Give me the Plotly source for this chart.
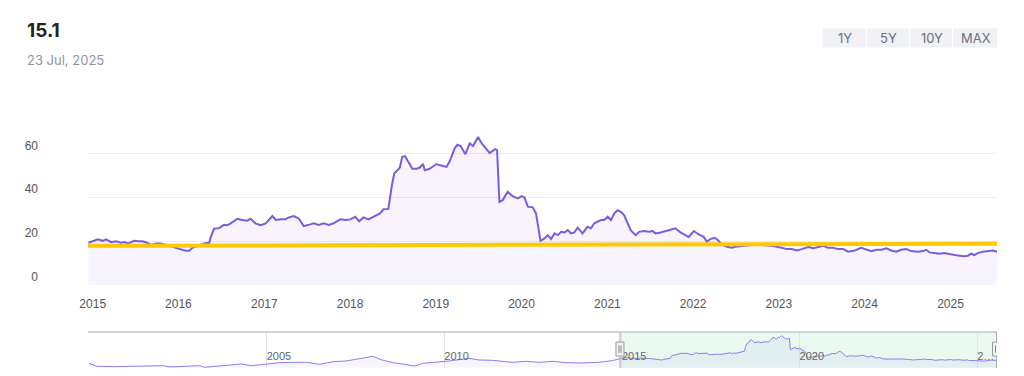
import plotly.graph_objects as go

# ---------------- data ----------------
title_value = "15.1"
title_date = "23 Jul, 2025"
range_buttons = ["1Y", "5Y", "10Y", "MAX"]

# long history (navigator only), 2000-2014
hist_dates = ["2000-01-01", "2000-03-21", "2000-09-06", "2001-02-24", "2001-08-15",
              "2002-02-03", "2002-04-13", "2002-09-27", "2003-02-13", "2003-04-05",
              "2003-09-06", "2004-01-19", "2004-04-16", "2004-07-27", "2004-11-06",
              "2004-12-28", "2005-05-16", "2005-09-27", "2006-02-14", "2006-06-28",
              "2006-11-13", "2007-03-29", "2007-08-11", "2007-12-28", "2008-03-22",
              "2008-07-20", "2008-10-30", "2009-02-28", "2009-05-23", "2009-10-09",
              "2010-02-21", "2010-09-13", "2010-12-24", "2011-05-12", "2011-08-22",
              "2011-12-02", "2012-04-16", "2012-09-02", "2013-01-15", "2013-06-03",
              "2013-10-16", "2014-05-08", "2014-09-24"]
hist_pe = [8.7, 2.3, 1.6, 2.3, 3.0,
           3.7, 0.9, 1.6, 3.7, 0.2,
           3.7, 6.6, 7.3, 3.7, 5.9,
           8.0, 10.1, 10.8, 10.8, 6.6,
           12.2, 13.7, 17.9, 23.6, 16.5,
           10.1, 7.3, 3.0, 8.7, 10.8,
           13.7, 19.4, 15.8, 15.1, 13.7,
           10.8, 13.0, 10.8, 13.0, 10.1,
           9.4, 10.8, 14.4]

# main series (visible window)
pe_dates = ["2014-12-14", "2015-01-23", "2015-02-13", "2015-02-27", "2015-03-20", "2015-04-10",
            "2015-05-01", "2015-05-16", "2015-06-02", "2015-06-27", "2015-07-14", "2015-08-01",
            "2015-08-20", "2015-09-07", "2015-09-27", "2015-10-18", "2015-11-08", "2015-12-01",
            "2015-12-22", "2016-01-11", "2016-02-01", "2016-02-16", "2016-03-01", "2016-03-25",
            "2016-04-20", "2016-05-11", "2016-05-18", "2016-06-01", "2016-06-22", "2016-07-13",
            "2016-07-27", "2016-08-11", "2016-09-08", "2016-09-29", "2016-10-20", "2016-11-03",
            "2016-11-24", "2016-12-16", "2017-01-07", "2017-02-04", "2017-02-19", "2017-03-11",
            "2017-04-01", "2017-04-15", "2017-05-07", "2017-05-28", "2017-06-18", "2017-07-09",
            "2017-07-30", "2017-08-20", "2017-09-11", "2017-10-02", "2017-10-23", "2017-11-20",
            "2017-12-12", "2018-01-02", "2018-01-23", "2018-02-09", "2018-02-27", "2018-03-20",
            "2018-04-10", "2018-05-09", "2018-05-23", "2018-06-13", "2018-06-27", "2018-07-08",
            "2018-07-25", "2018-08-01", "2018-08-11", "2018-08-23", "2018-09-06", "2018-09-23",
            "2018-10-11", "2018-10-25", "2018-11-08", "2018-11-15", "2018-12-06", "2018-12-20",
            "2019-01-04", "2019-01-19", "2019-02-02", "2019-02-16", "2019-03-02", "2019-03-23",
            "2019-04-03", "2019-04-17", "2019-05-07", "2019-05-26", "2019-06-09", "2019-06-16",
            "2019-06-30", "2019-07-14", "2019-07-28", "2019-08-18", "2019-09-01", "2019-09-11",
            "2019-09-19", "2019-09-29", "2019-10-13", "2019-11-03", "2019-11-24", "2019-12-16",
            "2020-01-02", "2020-01-14", "2020-01-28", "2020-02-18", "2020-03-03", "2020-03-22",
            "2020-04-08", "2020-04-22", "2020-05-06", "2020-05-21", "2020-06-04", "2020-06-18",
            "2020-07-02", "2020-07-16", "2020-07-30", "2020-08-13", "2020-08-27", "2020-09-17",
            "2020-10-08", "2020-10-23", "2020-11-06", "2020-11-20", "2020-12-04", "2020-12-18",
            "2021-01-02", "2021-01-16", "2021-01-30", "2021-02-13", "2021-02-27", "2021-03-13",
            "2021-03-27", "2021-04-10", "2021-05-01", "2021-05-16", "2021-06-06", "2021-06-28",
            "2021-07-11", "2021-07-25", "2021-08-15", "2021-09-06", "2021-09-27", "2021-10-18",
            "2021-11-08", "2021-11-22", "2021-12-13", "2022-01-04", "2022-01-25", "2022-02-15",
            "2022-03-01", "2022-03-15", "2022-04-03", "2022-04-17", "2022-05-04", "2022-05-25",
            "2022-06-15", "2022-06-29", "2022-07-27", "2022-09-08", "2022-10-20", "2022-12-02",
            "2023-01-14", "2023-02-04", "2023-02-25", "2023-03-18", "2023-04-08", "2023-05-07",
            "2023-05-28", "2023-06-25", "2023-07-09", "2023-07-30", "2023-08-20", "2023-09-11",
            "2023-10-02", "2023-10-23", "2023-11-20", "2023-12-18", "2024-01-09", "2024-01-30",
            "2024-02-21", "2024-03-13", "2024-04-03", "2024-04-24", "2024-05-15", "2024-06-05",
            "2024-06-26", "2024-07-18", "2024-08-15", "2024-09-06", "2024-09-20", "2024-10-04",
            "2024-10-25", "2024-11-15", "2024-12-06", "2024-12-28", "2025-01-19", "2025-02-09",
            "2025-03-02", "2025-03-16", "2025-03-30", "2025-04-13", "2025-04-27", "2025-05-18",
            "2025-06-09", "2025-06-30", "2025-07-23"]
pe_values = [19.3, 20.9, 20.2, 20.9, 19.6, 20.0,
             19.3, 19.6, 19.0, 20.2, 20.0, 20.0,
             19.3, 18.3, 19.0, 19.0, 18.4, 17.5,
             17.0, 16.3, 15.7, 15.7, 17.0, 18.0,
             19.0, 19.3, 22.0, 25.7, 26.0, 27.5,
             27.3, 28.2, 30.3, 29.7, 29.4, 30.3,
             28.2, 27.3, 28.2, 31.5, 29.7, 30.0,
             30.0, 30.9, 31.5, 30.3, 26.9, 27.5,
             28.2, 27.5, 28.2, 27.5, 28.2, 30.0,
             29.7, 30.0, 31.2, 29.1, 30.9, 30.0,
             31.2, 32.7, 34.6, 34.8, 44.9, 51.0,
             52.8, 53.7, 58.6, 58.9, 56.3, 53.1,
             53.1, 53.7, 55.3, 52.5, 53.1, 54.0,
             55.3, 54.7, 54.3, 54.0, 56.8, 62.6,
             64.1, 63.5, 59.8, 64.7, 63.5, 64.7,
             67.7, 65.0, 63.2, 60.4, 61.3, 62.2,
             61.6, 38.0, 38.8, 42.6, 40.6, 39.6,
             40.6, 40.0, 35.8, 35.5, 32.7, 20.2,
             21.3, 22.8, 21.0, 23.6, 22.8, 24.3,
             24.0, 25.1, 23.6, 24.0, 26.2, 23.6,
             26.6, 25.9, 28.2, 28.9, 29.7, 29.7,
             31.2, 29.7, 32.7, 34.2, 33.5, 32.0,
             28.2, 25.1, 22.8, 24.3, 24.7, 24.3,
             24.7, 23.6, 24.0, 24.7, 25.1, 25.9,
             24.0, 23.1, 22.0, 24.7, 23.1, 22.0,
             19.8, 21.0, 21.6, 20.5, 18.3, 17.5,
             17.0, 17.5, 17.9, 18.3, 18.3, 17.9,
             17.0, 16.4, 16.4, 15.8, 16.4, 17.4,
             16.8, 17.4, 17.9, 17.0, 17.0, 16.4,
             16.4, 15.2, 15.8, 17.0, 16.4, 15.5,
             16.1, 16.1, 16.8, 15.8, 15.2, 16.1,
             16.4, 15.5, 15.2, 15.5, 16.1, 14.9,
             14.6, 14.3, 14.6, 14.0, 13.7, 13.4,
             13.1, 13.4, 14.3, 13.7, 14.6, 15.2,
             15.5, 15.8, 15.1]

# reference (average) line
avg_dates = ["2014-12-12", "2025-07-23"]
avg_values = [17.9, 18.9]

# axes
main_range = ["2014-12-12", "2025-07-18"]
nav_range = ["1999-12-22", "2025-07-23"]
y_ticks = [0, 20, 40, 60, 80]
y_tick_text = ["0", "20", "40", "60", ""]
x_ticks = [f"{y}-01-01" for y in range(2015, 2026)]
x_tick_text = [str(y) for y in range(2015, 2026)]
nav_ticks = ["2005-01-01", "2010-01-01", "2015-01-01", "2020-01-01", "2025-01-01"]
nav_tick_text = ["2005", "2010", "2015", "2020", "2…"]

# ---------------- figure ----------------
OFF = 8                     # page body margin of the html
W, H = 1016, 368
PL, PR = 88 - OFF, 997 - OFF  # plot left / right in figure px
PW = PR - PL
LINE = "#7b5be2"
AX_FONT = dict(family="Liberation Sans, Arial, sans-serif", size=12, color="#555555")


def px_x(page_x):
    return (page_x - OFF - PL) / PW


def px_y(page_y):
    return 1 - (page_y - OFF) / H


fig = go.Figure()

fig.add_trace(go.Scatter(
    x=pe_dates, y=pe_values, mode="lines",
    line=dict(color=LINE, width=2),
    fill="tozeroy", fillcolor="rgba(140,100,240,0.07)",
    xaxis="x", yaxis="y", hoverinfo="skip"))

fig.add_trace(go.Scatter(
    x=avg_dates, y=avg_values, mode="lines",
    line=dict(color="#FFC800", width=4),
    xaxis="x", yaxis="y", hoverinfo="skip"))

fig.add_trace(go.Scatter(
    x=hist_dates + pe_dates, y=hist_pe + pe_values, mode="lines",
    line=dict(color="#8f7cf0", width=1),
    fill="tozeroy", fillcolor="rgba(140,120,240,0.07)",
    xaxis="x2", yaxis="y2", hoverinfo="skip"))

fig.update_layout(
    width=W, height=H,
    margin=dict(l=PL, r=W - PR, t=0, b=0),
    paper_bgcolor="white", plot_bgcolor="rgba(0,0,0,0)",
    showlegend=False,
    xaxis=dict(domain=[0, 1], range=main_range, type="date",
               tickvals=x_ticks, ticktext=x_tick_text,
               showgrid=False, zeroline=False, showline=False, ticks="",
               ticklabelstandoff=10, tickfont=AX_FONT, anchor="y"),
    yaxis=dict(domain=[px_y(285), px_y(110)], range=[0, 80],
               tickvals=y_ticks, ticktext=y_tick_text,
               showgrid=True, gridcolor="#ececec", gridwidth=1,
               zeroline=False, showline=False, ticks="",
               ticklabelposition="outside top", ticklabelstandoff=49,
               tickfont=AX_FONT, anchor="x"),
    xaxis2=dict(domain=[0, 1], range=nav_range, type="date",
                tickvals=nav_ticks, ticktext=nav_tick_text,
                showgrid=True, gridcolor="#e3e3e3", gridwidth=1,
                zeroline=False, showline=False, ticks="",
                ticklabelposition="inside right",
                tickfont=dict(family="Liberation Sans, Arial, sans-serif", size=11, color="#666666"),
                anchor="y2"),
    yaxis2=dict(domain=[px_y(368), px_y(332)], range=[-1.3, 75.6],
                showgrid=False, zeroline=False, showline=False,
                showticklabels=False, ticks="", anchor="x2"),
)

shapes = []
# navigator selection
shapes.append(dict(type="rect", xref="x2", yref="y2 domain", x0=main_range[0], x1=main_range[1],
                   y0=0, y1=1, fillcolor="rgba(90,210,150,0.14)", line=dict(width=0), layer="below"))
# navigator top outline
shapes.append(dict(type="line", xref="x2 domain", yref="y2 domain", x0=0, x1=1, y0=1, y1=1,
                   line=dict(color="#c4c4c4", width=1.5)))
# selection edges and handles
for d in main_range:
    shapes.append(dict(type="line", xref="x2", yref="y2 domain", x0=d, x1=d, y0=0, y1=1,
                       line=dict(color="#b0b0b0", width=1)))
    shapes.append(dict(type="rect", xref="x2", yref="y2 domain", xsizemode="pixel", xanchor=d,
                       x0=-4, x1=4, y0=0.33, y1=0.72, fillcolor="#f2f2f2",
                       line=dict(color="#999999", width=1)))
    for off in (-1, 1):
        shapes.append(dict(type="line", xref="x2", yref="y2 domain", xsizemode="pixel", xanchor=d,
                           x0=off, x1=off, y0=0.42, y1=0.63, line=dict(color="#888888", width=1)))

# range buttons background
btn_edges = [823, 867, 910, 953, 998]
for i in range(len(range_buttons)):
    shapes.append(dict(type="rect", xref="paper", yref="paper",
                       x0=px_x(btn_edges[i]), x1=px_x(btn_edges[i + 1] - 1),
                       y0=px_y(47.5), y1=px_y(28.5), fillcolor="#eff1f5",
                       line=dict(width=0), layer="below"))
fig.update_layout(shapes=shapes)

ann = []
ann.append(dict(text=f"<b>{title_value}</b>", xref="paper", yref="paper",
                x=px_x(25), y=px_y(30), xanchor="left", yanchor="middle",
                showarrow=False, font=dict(family="Inter, Liberation Sans, sans-serif", size=19, color="#222222")))
ann.append(dict(text=title_date, xref="paper", yref="paper",
                x=px_x(25), y=px_y(60), xanchor="left", yanchor="middle",
                showarrow=False, font=dict(family="Inter, Liberation Sans, sans-serif", size=13, color="#8a94a6")))
for i, lab in enumerate(range_buttons):
    cx = (btn_edges[i] + btn_edges[i + 1]) / 2
    ann.append(dict(text=lab, xref="paper", yref="paper",
                    x=px_x(cx), y=px_y(38), xanchor="center", yanchor="middle",
                    showarrow=False, font=dict(family="Inter, Liberation Sans, sans-serif", size=13, color="#6b7280")))
fig.update_layout(annotations=ann)

fig.write_html("out.html")
